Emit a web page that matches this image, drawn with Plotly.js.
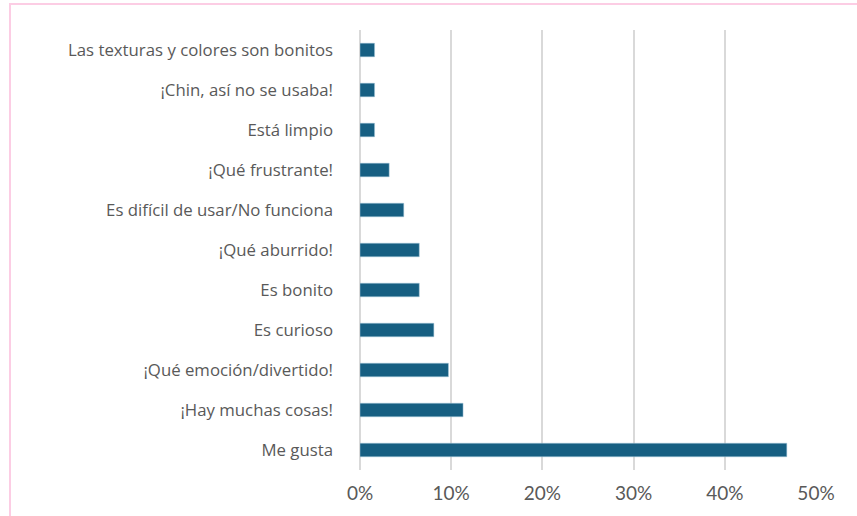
<!DOCTYPE html>
<html>
<head>
<meta charset="utf-8">
<script src="https://cdn.plot.ly/plotly-3.0.1.min.js"></script>
<style>
html,body{margin:0;padding:0;background:#fff;}
#chart{width:857px;height:516px;}
#frame{position:absolute;left:9px;top:3px;width:900px;height:600px;border-left:2px solid #fccde4;border-top:2px solid #fccde4;pointer-events:none;}
</style>
</head>
<body>
<div id="chart"></div>
<div id="frame"></div>
<script>
const categories = [
  "Las texturas y colores son bonitos",
  "¡Chin, así no se usaba!",
  "Está limpio",
  "¡Qué frustrante!",
  "Es difícil de usar/No funciona",
  "¡Qué aburrido!",
  "Es bonito",
  "Es curioso",
  "¡Qué emoción/divertido!",
  "¡Hay muchas cosas!",
  "Me gusta"
];
const values = [1.6, 1.6, 1.6, 3.2, 4.8, 6.5, 6.5, 8.1, 9.7, 11.3, 46.8];
const tickValues = [0, 10, 20, 30, 40, 50];
const tickLabels = ["0%", "10%", "20%", "30%", "40%", "50%"];

const trace = {
  type: 'bar',
  orientation: 'h',
  y: categories,
  x: values,
  marker: {color: '#175f82', line: {color: '#a9cbdc', width: 0.5}},
  hoverinfo: 'x+y'
};

const layout = {
  width: 857,
  height: 516,
  margin: {l: 360, r: 41, t: 30, b: 46},
  paper_bgcolor: '#ffffff',
  plot_bgcolor: '#ffffff',
  bargap: 0.66,
  showlegend: false,
  xaxis: {
    range: [0, 50],
    tickmode: 'array',
    tickvals: tickValues,
    ticktext: tickLabels,
    showgrid: true,
    gridcolor: '#d9d9d9',
    gridwidth: 2,
    zeroline: true,
    zerolinecolor: '#d9d9d9',
    zerolinewidth: 2,
    showline: false,
    ticks: '',
    ticklabelstandoff: 10,
    tickfont: {family: 'Lato, sans-serif', size: 19, color: '#595959'},
    fixedrange: true
  },
  yaxis: {
    autorange: 'reversed',
    showgrid: false,
    zeroline: false,
    showline: false,
    ticks: '',
    ticklabelstandoff: 26,
    tickfont: {family: '"Open Sans", sans-serif', size: 16.8, color: '#595959'},
    fixedrange: true
  }
};

Plotly.newPlot('chart', [trace], layout, {displayModeBar: false, staticPlot: true});
</script>
</body>
</html>
